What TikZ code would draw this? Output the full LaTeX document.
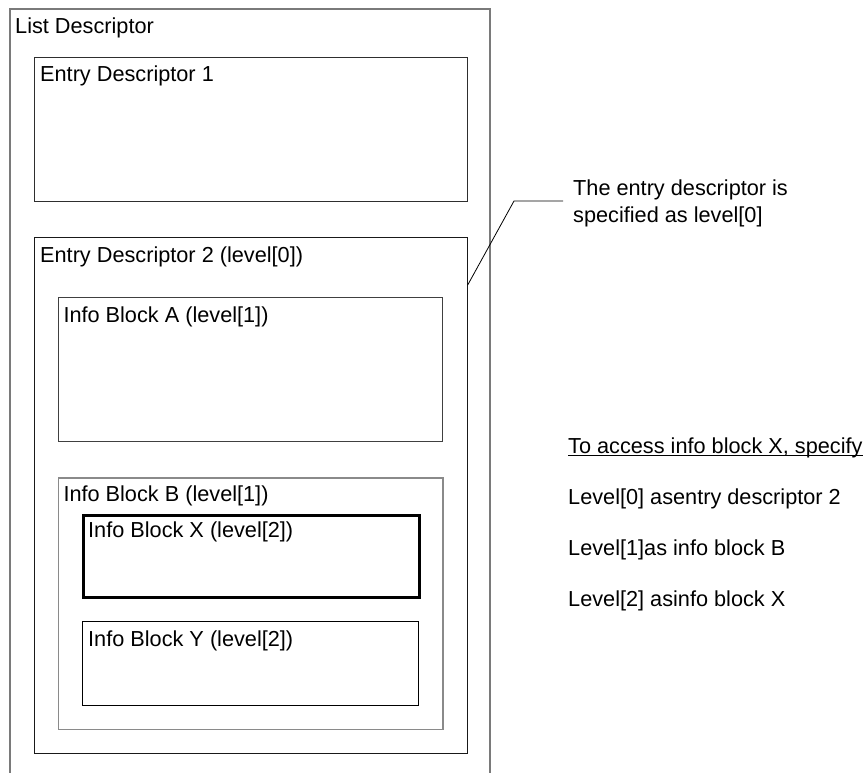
\documentclass[tikz,border=0pt]{standalone}
\usepackage{fontspec}
\setmainfont{Liberation Sans}
\definecolor{frame}{HTML}{7A7A7A}
\definecolor{boxdark}{HTML}{2E2E2E}
\definecolor{boxmid}{HTML}{8A8A8A}
\tikzset{
  label/.style={anchor=base west, inner sep=0pt, font=\fontsize{21.7}{26}\selectfont},
  blk/.style={draw, rectangle, anchor=north west, inner sep=0pt},
}
\newcommand{\blk}[6]{% name, style, x1, y1, x2, y2
  \node[blk, #2, minimum width={(#5-#3)*1pt}, minimum height={(#6-#4)*1pt}] (#1) at (#3,#4) {};}
\begin{document}
\begin{tikzpicture}[x=1pt, y=-1pt]
  \useasboundingbox (0,0) rectangle (867,773);

  % list descriptor frame, open at the bottom
  \draw[frame, line width=1.5pt] (10,773) -- (10,9) -- (490,9) -- (490,773);
  \node[label] (ldtxt) at (15,34) {List Descriptor};

  % entry descriptors
  \blk{ed1}{draw=boxdark, line width=1pt}{34.3}{57}{466.7}{201}
  \node[label] (ed1txt) at (40,81.7) {Entry Descriptor 1};

  \blk{ed2}{draw=black!90, line width=1pt}{34.3}{237}{466.7}{753.3}
  \node[label] (ed2txt) at (40,262.3) {Entry Descriptor 2 (level[0])};

  % info blocks at level 1
  \blk{ia}{draw=black!75, line width=1pt}{58}{297}{442.3}{441}
  \node[label] (iatxt) at (63.3,322.7) {Info Block A (level[1])};

  \blk{ib}{draw=boxmid, line width=1.3pt}{58}{477.3}{442.3}{729}
  \node[label] (ibtxt) at (63.3,501.7) {Info Block B (level[1])};

  % info blocks at level 2
  \blk{ix}{draw=black, line width=3pt}{82.3}{514}{418}{596}
  \node[label] (ixtxt) at (88,537.7) {Info Block X (level[2])};

  \blk{iy}{draw=black, line width=1pt}{82}{621.3}{418.3}{705.3}
  \node[label] (iytxt) at (88,646) {Info Block Y (level[2])};

  % callout on entry descriptor 2
  \node[label] (note1) at (573,195) {The entry descriptor is};
  \node[label] (note2) at (573,222) {specified as level[0]};
  \coordinate (noteend) at (563,201);
  \draw[line width=0.8pt] (ed2.east |- 0,285) -- (514,201) -- (noteend);

  % access path
  \node[label] (acc) at (568,453) {To access info block X, specify};
  \draw[line width=1pt] ([yshift=-2pt]acc.base west) -- ([yshift=-2pt]acc.base east);
  \node[label] (lv0) at (568,504) {Level[0] asentry descriptor 2};
  \node[label] (lv1) at (568,555) {Level[1]as info block B};
  \node[label] (lv2) at (568,606) {Level[2] asinfo block X};
\end{tikzpicture}
\end{document}
